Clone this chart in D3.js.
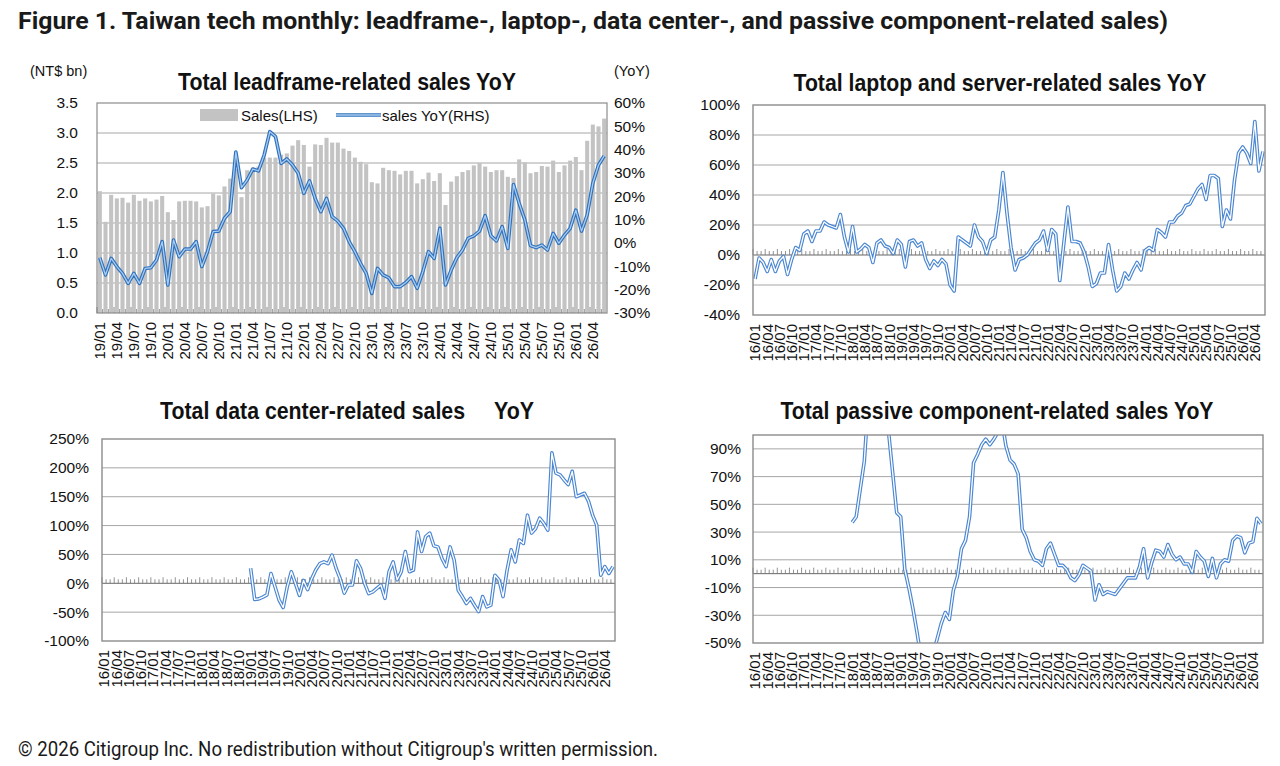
<!DOCTYPE html>
<html>
<head>
<meta charset="utf-8">
<script src="https://cdn.jsdelivr.net/npm/d3@7"></script>
<style>
  body { margin: 0; background: #fff; }
  svg text { font-family: "Liberation Sans", Arial, sans-serif; fill: #111; }
</style>
</head>
<body>
<svg id="fig" width="1280" height="766"></svg>
<script>
// ---- categories ----
function months(y0, y1, lastM) {
	const out = [];
	for (let y = y0; y <= y1; y++)
		for (let m = 1; m <= 12; m++) {
			if (y === y1 && m > lastM) break;
			out.push(y + "/" + String(m).padStart(2, "0"));
		}
	return out;
}
const leadMonths = months(19, 26, 6); // 19/01 .. 26/06
const yoyMonths = months(16, 26, 6); // 16/01 .. 26/06
const quarterly = (m) => ["01", "04", "07", "10"].includes(m.slice(3)) && m <= "26/04";
const leadTicks = leadMonths.filter(quarterly);
const yoyTicks = yoyMonths.filter(quarterly);

// ---- data ----
const leadSales = [
	2.03, 1.52, 1.97, 1.91, 1.92, 1.84, 1.97, 1.87, 1.91, 1.86, 1.89, 1.95,
	1.68, 1.55, 1.86, 1.87, 1.87, 1.86, 1.76, 1.78, 1.99, 1.96, 2.11, 2.24,
	2.40, 1.93, 2.38, 2.42, 2.44, 2.59, 2.59, 2.59, 2.64, 2.66, 2.79, 2.88,
	2.80, 2.44, 2.81, 2.80, 2.92, 2.84, 2.84, 2.74, 2.70, 2.59, 2.52, 2.48,
	2.18, 2.16, 2.42, 2.38, 2.37, 2.31, 2.37, 2.37, 2.16, 2.23, 2.34, 2.20,
	2.33, 1.80, 2.19, 2.28, 2.35, 2.38, 2.46, 2.50, 2.44, 2.35, 2.38, 2.38,
	2.27, 2.25, 2.56, 2.51, 2.33, 2.35, 2.45, 2.44, 2.54, 2.35, 2.46, 2.54,
	2.60, 2.38, 2.87, 3.14, 3.11, 3.24
];
const leadYoY = [
	-6.3, -13.7, -6.6, -10.1, -13, -17.3, -13, -17.3, -10.9, -10.6, -7.3, 0.6,
	-18, 1.3, -5.9, -2.6, -2.6, 0.6, -10.1, -3.7, 4.9, 5.1, 10.6, 13.4,
	39, 23.7, 27, 31.7, 30.9, 37.7, 47.7, 45.6, 34.1, 36, 33.4, 29.9,
	21.3, 26.6, 19.1, 13.4, 19.1, 11.3, 9.4, 6.3, 0.6, -3.7, -8.7, -13,
	-21.6, -10.9, -13.7, -14.9, -18.7, -18.7, -16.9, -14.4, -19.4, -12.3, -3.7, -6.6,
	6.3, -18, -11.6, -6.3, -3, 2, 3.1, 5.1, 11.7, 3.1, 0.9, 7,
	-2.3, 25.1, 17, 9.9, -1.1, -2, -0.9, -3, 4.1, -0.1, 3.4, 6.3,
	14.1, 5.1, 12, 25.6, 33.4, 37.3
];
const laptopYoY = [
	-16, -2, -5, -11, -3, -11, -4, -1, -13, -3, 5, 3,
	14, 16, 9, 16, 16, 22, 20, 19, 18, 27, 12, 2,
	19, 2, 4, 7, 5, -5, 8, 10, 6, 5, 1, 10,
	7, -8, 9, 10, 6, 8, -3, -9, -4, -7, -3, -6,
	-20, -24, 12, 10, 8, 6, 20, 12, 9, 1, 10, 12,
	30, 55, 28, 5, -10, -3, -2, 0, 4, 8, 10, 16,
	3, 17, 14, -17, 8, 32, 9, 9, 8, 2, -8, -21,
	-19, -12, -12, 7, -10, -24, -21, -12, -16, -10, -5, -10,
	3, 5, 3, 17, 15, 12, 22, 22, 26, 28, 33, 34,
	39, 44, 47, 37, 53, 53, 51, 19, 30, 24, 50, 68,
	72, 68, 61, 89, 56, 69
];
const dataCenterYoY = [
	null, null, null, null, null, null, null, null, null, null, null, null,
	null, null, null, null, null, null, null, null, null, null, null, null,
	null, null, null, null, null, null, null, null, null, null, null, null,
	26, -28, -27, -24, -20, 17, -6, -29, -42, -6, 20, 0,
	-21, 5, -11, 8, 23, 34, 37, 34, 49, 26, 8, -17,
	-3, -3, 39, 26, 0, -18, -15, -9, -3, -26, 20, 37,
	6, 20, 55, 20, 23, 89, 55, 81, 87, 65, 63, 43,
	29, 63, 40, -12, -23, -35, -26, -38, -49, -23, -41, -38,
	14, 6, -23, 23, 58, 37, 75, 69, 118, 87, 95, 113,
	104, 92, 226, 191, 188, 179, 171, 194, 150, 153, 156, 142,
	118, 101, 14, 29, 17, 29
];
const passiveYoY = [
	null, null, null, null, null, null, null, null, null, null, null, null,
	null, null, null, null, null, null, null, null, null, null, null, null,
	37, 41, 61, 81, 125, 150, 160, 150, 125, 102, 73, 44,
	41, 3, -10, -25, -42, -60, -75, -70, -58, -47, -36, -28,
	-33, -12, -2, 18, 24, 41, 80, 86, 93, 97, 93, 97,
	102, 110, 92, 82, 79, 72, 32, 26, 16, 10, 9, 6,
	18, 22, 14, 6, 6, 3, -3, -5, -1, 6, 4, 2,
	-19, -8, -15, -13, -14, -15, -11, -7, -3, -3, -3, 5,
	18, -3, 8, 17, 16, 12, 21, 14, 10, 12, 7, 7,
	1, 16, 12, 9, -2, 11, -3, 7, 10, 9, 24, 27,
	26, 15, 22, 23, 40, 36
];

const svg = d3.select("#fig");
const gridColor = "#a6a6a6";
const frameColor = "#8c8c8c";
const pct = (d) => d + "%";

svg.append("text")
	.attr("x", 18).attr("y", 29)
	.attr("textLength", 1150).attr("lengthAdjust", "spacingAndGlyphs")
	.style("font-family", "Roboto, sans-serif").style("font-weight", 700).style("font-size", "23px")
	.style("fill", "#1a1a1a")
	.text("Figure 1. Taiwan tech monthly: leadframe-, laptop-, data center-, and passive component-related sales)");

svg.append("text")
	.attr("x", 18).attr("y", 756)
	.attr("textLength", 640).attr("lengthAdjust", "spacingAndGlyphs")
	.style("font-family", "Roboto, sans-serif").style("font-size", "20px")
	.style("fill", "#1a1a1a")
	.text("\u00a9 2026 Citigroup Inc. No redistribution without Citigroup's written permission.");

function title(cx, y, len, txt) {
	svg.append("text")
		.attr("x", cx - len / 2).attr("y", y)
		.attr("textLength", len).attr("lengthAdjust", "spacingAndGlyphs")
		.style("font-weight", 700).style("font-size", "23px")
		.text(txt);
}

function doubleLine(g, x, y, values, outer, inner) {
	const line = d3.line()
		.defined((d) => d != null)
		.x((d, i) => x(x.domain()[i]) + x.bandwidth() / 2)
		.y((d) => y(d));
	g.append("path").attr("d", line(values))
		.attr("fill", "none").attr("stroke", outer).attr("stroke-width", 3.6)
		.attr("stroke-linejoin", "round");
	g.append("path").attr("d", line(values))
		.attr("fill", "none").attr("stroke", inner).attr("stroke-width", 1.3)
		.attr("stroke-linejoin", "round");
}

function monthTicks(g, x, y0) {
	g.append("g").selectAll("line")
		.data(x.domain())
		.join("line")
		.attr("x1", (d) => x(d)).attr("x2", (d) => x(d))
		.attr("y1", y0).attr("y2", (d, i) => y0 - (i % 3 === 0 ? 6 : 4))
		.attr("stroke", "#777").attr("stroke-width", 0.8);
}

function xLabels(g, x, ticks, y0) {
	g.append("g").selectAll("text")
		.data(ticks)
		.join("text")
		.attr("transform", (d) => `translate(${x(d) + x.bandwidth() / 2},${y0}) rotate(-90)`)
		.attr("text-anchor", "end")
		.attr("dy", "0.36em")
		.style("font-size", "15px")
		.text((d) => d);
}

// ---- top-left: leadframe ----
(function () {
	const L = 97, R = 607, T = 103, B = 313;
	const x = d3.scaleBand().domain(leadMonths).range([L, R]).paddingInner(0.28).paddingOuter(0.14);
	const xs = d3.scaleBand().domain(leadMonths).range([L, R]);
	const yS = d3.scaleLinear().domain([0, 3.5]).range([B, T]);
	const yY = d3.scaleLinear().domain([-30, 60]).range([B, T]);
	const g = svg.append("g");

	g.append("g").selectAll("line")
		.data(d3.range(0.5, 3.01, 0.5))
		.join("line")
		.attr("x1", L).attr("x2", R)
		.attr("y1", (d) => yS(d)).attr("y2", (d) => yS(d))
		.attr("stroke", gridColor);

	g.append("g").selectAll("rect")
		.data(leadSales)
		.join("rect")
		.attr("x", (d, i) => x(leadMonths[i]))
		.attr("width", x.bandwidth())
		.attr("y", (d) => yS(d))
		.attr("height", (d) => yS(0) - yS(d))
		.attr("fill", "#c3c3c3");

	g.append("rect").attr("x", L).attr("y", T).attr("width", R - L).attr("height", B - T)
		.attr("fill", "none").attr("stroke", frameColor).attr("stroke-width", 1.2);
	monthTicks(g, xs, B);

	doubleLine(g, xs, yY, leadYoY, "#2f72bd", "#a9cbef");

	const la = g.append("g").attr("transform", `translate(${L},0)`)
		.call(d3.axisLeft(yS).tickValues(d3.range(0, 3.51, 0.5)).tickFormat(d3.format(".1f")).tickSize(0).tickPadding(19));
	const ra = g.append("g").attr("transform", `translate(${R},0)`)
		.call(d3.axisRight(yY).tickValues(d3.range(-30, 61, 10)).tickFormat(pct).tickSize(0).tickPadding(7));
	[la, ra].forEach((a) => {
		a.select(".domain").remove();
		a.selectAll("text").style("font-size", "15.5px").style("font-family", "'Liberation Sans', Arial, sans-serif").style("fill", "#111");
	});

	xLabels(g, xs, leadTicks, B + 9);

	g.append("text").attr("x", 30).attr("y", 76).style("font-size", "14.5px").text("(NT$ bn)");
	g.append("text").attr("x", 614).attr("y", 76).style("font-size", "14.5px").text("(YoY)");

	// legend
	g.append("rect").attr("x", 200).attr("y", 109).attr("width", 38).attr("height", 12).attr("fill", "#c3c3c3");
	g.append("text").attr("x", 241).attr("y", 120.5).style("font-size", "15px").text("Sales(LHS)");
	g.append("line").attr("x1", 336).attr("x2", 381).attr("y1", 115).attr("y2", 115)
		.attr("stroke", "#2f72bd").attr("stroke-width", 3.6);
	g.append("line").attr("x1", 336).attr("x2", 381).attr("y1", 115).attr("y2", 115)
		.attr("stroke", "#a9cbef").attr("stroke-width", 1.3);
	g.append("text").attr("x", 382).attr("y", 120.5).style("font-size", "15px").text("sales YoY(RHS)");

	title(347, 90, 338, "Total leadframe-related sales YoY");
})();

// ---- line-only YoY panels ----
function yoyPanel(cfg) {
	const { L, R, T, B, domain, ticks, values, pad, id } = cfg;
	const x = d3.scaleBand().domain(yoyMonths).range([L, R]);
	const y = d3.scaleLinear().domain(domain).range([B, T]);
	const g = svg.append("g");

	g.append("g").selectAll("line")
		.data(ticks.filter((t) => t !== 0 && t !== domain[0] && t !== domain[1]))
		.join("line")
		.attr("x1", L).attr("x2", R)
		.attr("y1", (d) => y(d)).attr("y2", (d) => y(d))
		.attr("stroke", gridColor);

	g.append("line").attr("x1", L).attr("x2", R).attr("y1", y(0)).attr("y2", y(0))
		.attr("stroke", "#666").attr("stroke-width", 1);
	monthTicks(g, x, y(0));

	g.append("clipPath").attr("id", id).append("rect")
		.attr("x", L).attr("y", T).attr("width", R - L).attr("height", B - T);
	const lg = g.append("g").attr("clip-path", `url(#${id})`);
	doubleLine(lg, x, y, values, "#4a86d2", "#ffffff");

	g.append("rect").attr("x", L).attr("y", T).attr("width", R - L).attr("height", B - T)
		.attr("fill", "none").attr("stroke", frameColor).attr("stroke-width", 1.4);

	const a = g.append("g").attr("transform", `translate(${L},0)`)
		.call(d3.axisLeft(y).tickValues(ticks).tickFormat(pct).tickSize(0).tickPadding(pad));
	a.select(".domain").remove();
	a.selectAll("text").style("font-size", "15.5px").style("font-family", "'Liberation Sans', Arial, sans-serif").style("fill", "#111");

	xLabels(g, x, yoyTicks, B + 9);
}

yoyPanel({
	id: "clipTR", L: 753, R: 1265, T: 105, B: 315, pad: 13,
	domain: [-40, 100], ticks: d3.range(-40, 101, 20), values: laptopYoY
});
title(1000, 91, 413, "Total laptop and server-related sales YoY");

yoyPanel({
	id: "clipBL", L: 102, R: 615, T: 439, B: 641, pad: 13,
	domain: [-100, 250], ticks: d3.range(-100, 251, 50), values: dataCenterYoY
});
svg.append("text").attr("x", 160).attr("y", 419)
	.attr("textLength", 305).attr("lengthAdjust", "spacingAndGlyphs")
	.style("font-weight", 700).style("font-size", "23px")
	.text("Total data center-related sales");
svg.append("text").attr("x", 494).attr("y", 419)
	.attr("textLength", 40).attr("lengthAdjust", "spacingAndGlyphs")
	.style("font-weight", 700).style("font-size", "23px")
	.text("YoY");

yoyPanel({
	id: "clipBR", L: 753, R: 1263, T: 435, B: 643, pad: 12,
	domain: [-50, 100], ticks: d3.range(-50, 91, 20), values: passiveYoY
});
title(997, 419, 433, "Total passive component-related sales YoY");
</script>
</body>
</html>
